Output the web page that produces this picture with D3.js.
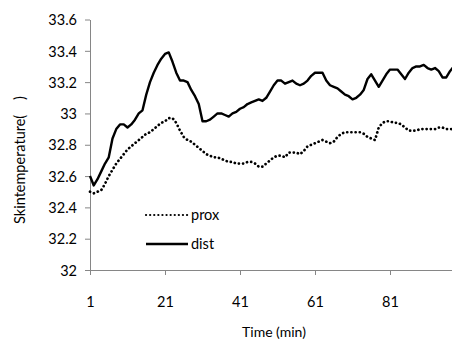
<!DOCTYPE html>
<html>
<head>
<meta charset="utf-8">
<script src="https://cdn.jsdelivr.net/npm/d3@7"></script>
<style>
  body { margin: 0; background: #fff; }
  text { font-family: Lato, "Open Sans", sans-serif; fill: #000; }
</style>
</head>
<body>
<div id="chart"></div>
<script>
// minutes 1..98
const minutes = d3.range(1, 99);
const xTickLabels = [1, 21, 41, 61, 81];
const yTicks = [32, 32.2, 32.4, 32.6, 32.8, 33, 33.2, 33.4, 33.6];

const prox = [
  32.50, 32.49, 32.50, 32.51, 32.55, 32.60, 32.64, 32.68, 32.71, 32.74,
  32.77, 32.79, 32.81, 32.83, 32.85, 32.87, 32.88, 32.90, 32.92, 32.94,
  32.95, 32.97, 32.97, 32.94, 32.89, 32.85, 32.83, 32.82, 32.80, 32.78,
  32.76, 32.74, 32.73, 32.72, 32.72, 32.71, 32.70, 32.69, 32.69, 32.68,
  32.68, 32.68, 32.69, 32.69, 32.68, 32.66, 32.66, 32.68, 32.70, 32.72,
  32.73, 32.73, 32.72, 32.75, 32.75, 32.75, 32.74, 32.76, 32.79, 32.80,
  32.81, 32.82, 32.83, 32.82, 32.81, 32.82, 32.85, 32.87, 32.88, 32.88,
  32.88, 32.88, 32.88, 32.87, 32.85, 32.84, 32.83, 32.91, 32.94, 32.95,
  32.95, 32.94, 32.94, 32.93, 32.91, 32.89, 32.89, 32.89, 32.90, 32.90,
  32.90, 32.90, 32.90, 32.91, 32.91, 32.90, 32.90, 32.90
];

const dist = [
  32.60, 32.54, 32.58, 32.63, 32.68, 32.72, 32.84, 32.90, 32.93, 32.93,
  32.91, 32.93, 32.96, 33.00, 33.02, 33.12, 33.20, 33.26, 33.31, 33.35,
  33.38, 33.39, 33.33, 33.26, 33.21, 33.21, 33.20, 33.15, 33.11, 33.06,
  32.95, 32.95, 32.96, 32.98, 33.00, 33.00, 32.99, 32.98, 33.00, 33.01,
  33.03, 33.04, 33.06, 33.07, 33.08, 33.09, 33.08, 33.10, 33.14, 33.18,
  33.21, 33.21, 33.19, 33.20, 33.21, 33.19, 33.18, 33.19, 33.21, 33.24,
  33.26, 33.26, 33.26, 33.21, 33.18, 33.17, 33.16, 33.14, 33.12, 33.11,
  33.09, 33.10, 33.12, 33.15, 33.22, 33.25, 33.21, 33.17, 33.21, 33.25,
  33.28, 33.28, 33.28, 33.25, 33.22, 33.26, 33.29, 33.30, 33.30, 33.31,
  33.29, 33.28, 33.29, 33.27, 33.23, 33.23, 33.27, 33.30
];

const width = 452, height = 340;
const plotLeft = 90, plotTop = 19.5, plotBottom = 270;
const fontSize = '14.5px';

const svg = d3.select('#chart')
  .append('svg')
  .attr('width', width)
  .attr('height', height);

const x = d3.scaleLinear().domain([1, 98]).range([plotLeft, plotLeft + 97 * 3.75]);
const y = d3.scaleLinear().domain([32, 33.6]).range([plotBottom, plotTop]);

// y axis
const yAxis = svg.append('g')
  .attr('transform', `translate(${plotLeft},0)`)
  .call(d3.axisLeft(y).tickValues(yTicks).tickSize(5).tickSizeOuter(0)
    .tickFormat(d => d3.format('')(+d.toFixed(1))));
yAxis.select('.domain').attr('stroke', '#868686');
yAxis.selectAll('.tick line').attr('stroke', '#868686');
yAxis.selectAll('.tick text')
  .attr('x', -13)
  .attr('dy', '0.36em')
  .style('font-size', fontSize);

// x axis
const xAxis = svg.append('g')
  .attr('transform', `translate(0,${plotBottom})`)
  .call(d3.axisBottom(x).tickValues(xTickLabels).tickSize(5).tickSizeOuter(0));
xAxis.select('.domain').attr('d', `M${plotLeft},0.5H${width}`).attr('stroke', '#868686');
xAxis.selectAll('.tick line').attr('stroke', '#868686');
xAxis.selectAll('.tick text')
  .attr('y', 37)
  .attr('dy', 0)
  .style('font-size', fontSize);

svg.append('text')
  .attr('x', 274)
  .attr('y', 337)
  .attr('text-anchor', 'middle')
  .style('font-size', '14px')
  .text('Time (min)');

svg.append('text')
  .attr('transform', 'translate(25,160) rotate(-90)')
  .attr('text-anchor', 'middle')
  .style('font-size', fontSize)
  .style('white-space', 'pre')
  .text('Skintemperature(    )');

const line = d3.line()
  .x((d, i) => x(minutes[i]))
  .y(d => y(d));

svg.append('path')
  .datum(dist)
  .attr('fill', 'none')
  .attr('stroke', '#000')
  .attr('stroke-width', 2.4)
  .attr('stroke-linejoin', 'round')
  .attr('d', line);

svg.append('path')
  .datum(prox)
  .attr('fill', 'none')
  .attr('stroke', '#000')
  .attr('stroke-width', 2.7)
  .attr('stroke-linecap', 'round')
  .attr('stroke-dasharray', '0.1 4.1')
  .attr('d', line);

// legend
const legend = svg.append('g');
const items = [
  {name: 'prox', dash: '0.1 4', cap: 'round', w: 2.2, y: 215},
  {name: 'dist', dash: null, cap: 'butt', w: 2.5, y: 244}
];
items.forEach(it => {
  legend.append('line')
    .attr('x1', 146).attr('x2', 188)
    .attr('y1', it.y).attr('y2', it.y)
    .attr('stroke', '#000')
    .attr('stroke-width', it.w)
    .attr('stroke-linecap', it.cap)
    .attr('stroke-dasharray', it.dash);
  legend.append('text')
    .attr('x', 191)
    .attr('y', it.y + 5)
    .style('font-size', fontSize)
    .text(it.name);
});
</script>
</body>
</html>
